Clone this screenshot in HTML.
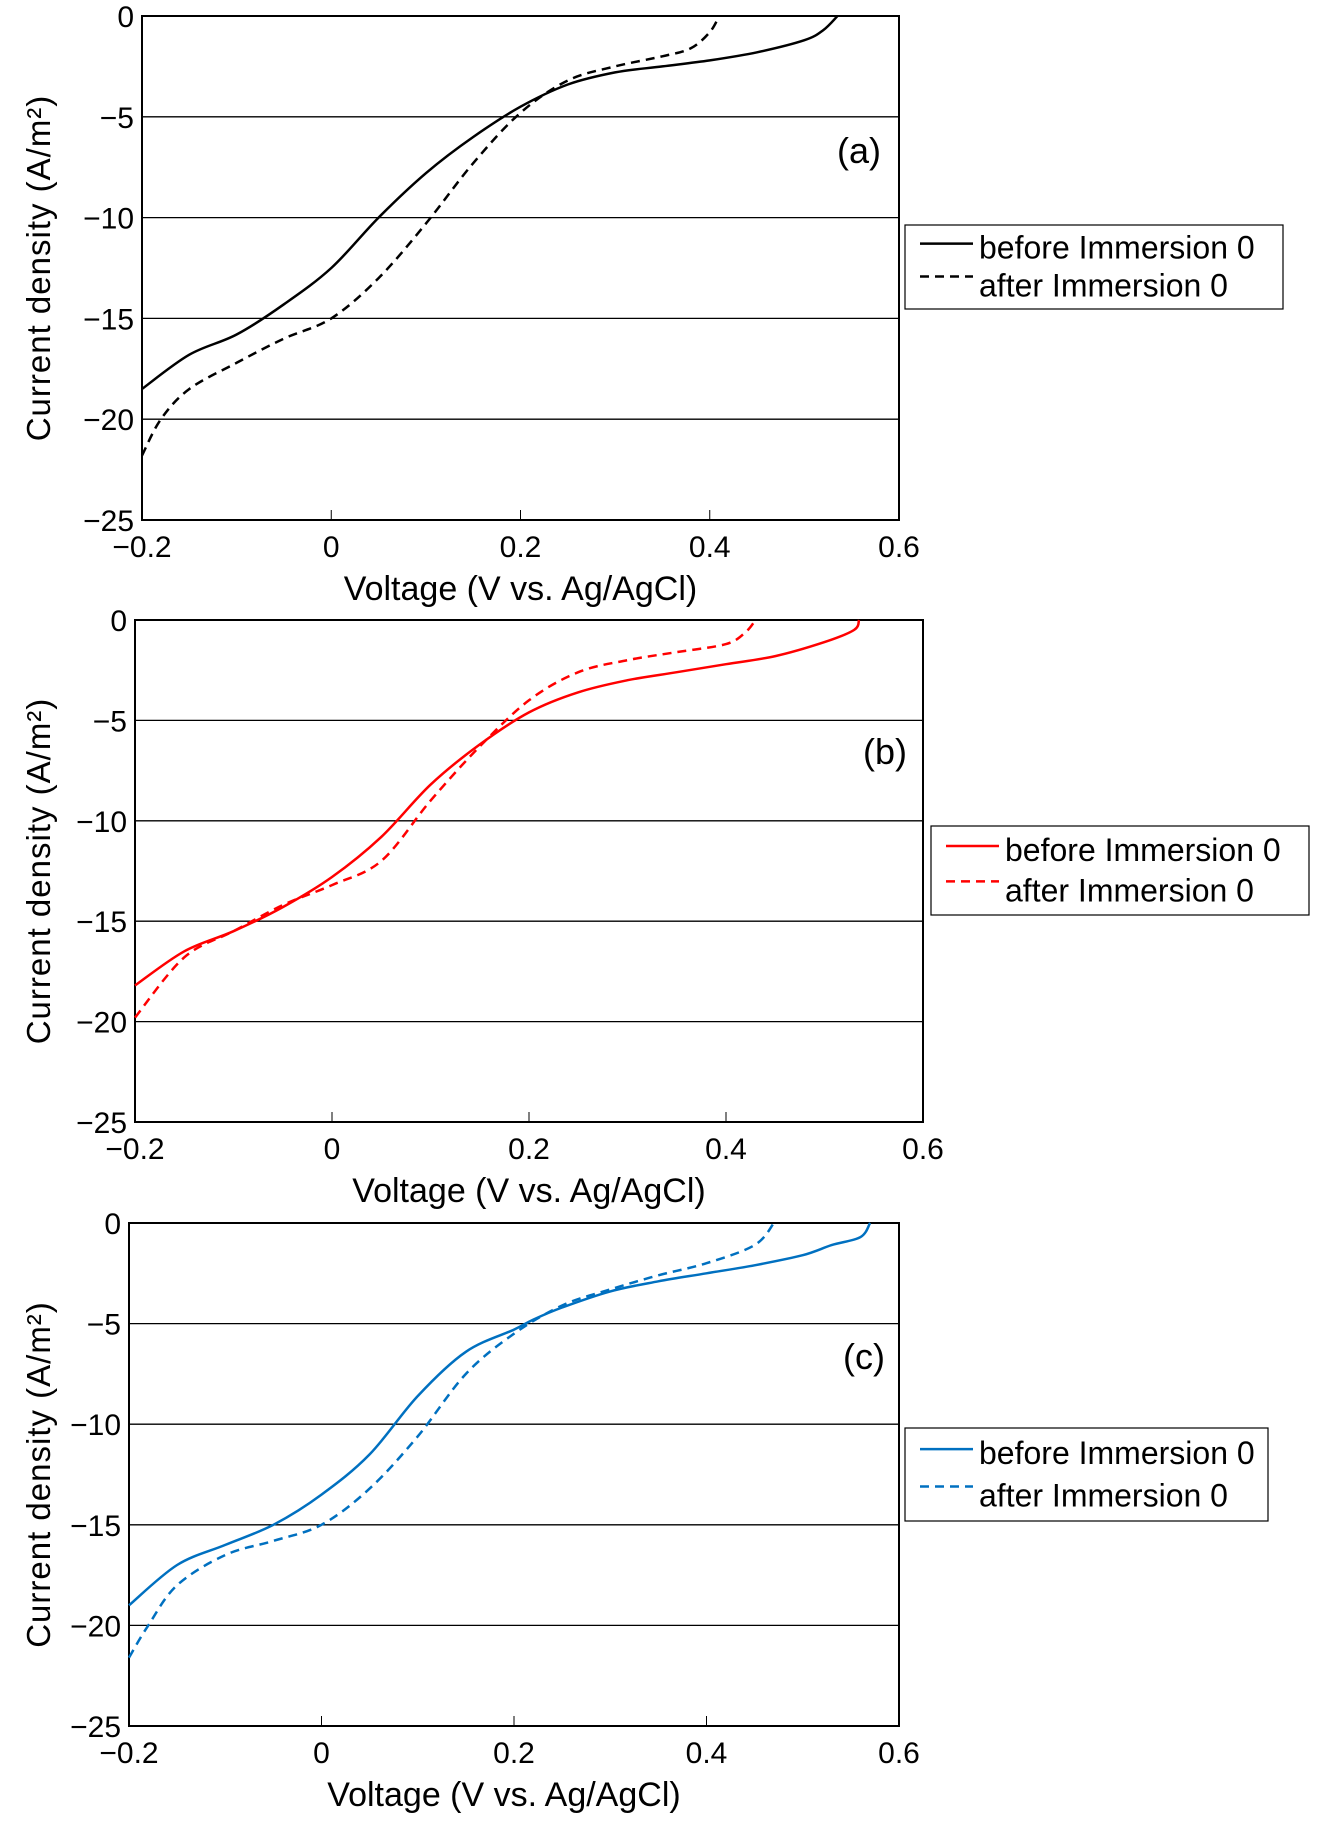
<!DOCTYPE html>
<html><head><meta charset="utf-8"><style>
html,body{margin:0;padding:0;background:#fff;}
svg text{font-family:"Liberation Sans Narrow","Liberation Sans",sans-serif;fill:#000;}
</style></head><body>
<svg id="root" width="1324" height="1824" viewBox="0 0 1324 1824" xmlns="http://www.w3.org/2000/svg"></svg>
<script>
const aBeforeV = [-0.2,-0.15,-0.1,-0.05,0,0.05,0.1,0.15,0.2,0.25,0.3,0.35,0.4,0.45,0.5,0.52,0.535];
const aBeforeJ = [-18.5,-16.8,-15.8,-14.3,-12.5,-10,-7.8,-6,-4.5,-3.4,-2.8,-2.5,-2.2,-1.8,-1.2,-0.7,0];
const aAfterV = [-0.2,-0.18,-0.15,-0.1,-0.05,0,0.05,0.1,0.15,0.2,0.25,0.3,0.35,0.38,0.4,0.41];
const aAfterJ = [-21.8,-20,-18.5,-17.2,-16,-15,-13,-10.3,-7.3,-4.8,-3.2,-2.5,-2,-1.6,-0.8,0];
const bBeforeV = [-0.2,-0.15,-0.1,-0.05,0,0.05,0.1,0.15,0.2,0.25,0.3,0.35,0.4,0.45,0.5,0.53,0.535];
const bBeforeJ = [-18.2,-16.5,-15.5,-14.3,-12.8,-10.8,-8.2,-6.2,-4.6,-3.6,-3,-2.6,-2.2,-1.8,-1.1,-0.5,0];
const bAfterV = [-0.2,-0.15,-0.1,-0.05,0,0.05,0.1,0.15,0.2,0.25,0.3,0.35,0.4,0.42,0.43];
const bAfterJ = [-19.8,-16.8,-15.5,-14.2,-13.2,-12,-9,-6.3,-4,-2.6,-2,-1.6,-1.2,-0.6,0];
const cBeforeV = [-0.2,-0.15,-0.1,-0.05,0,0.05,0.1,0.15,0.2,0.22,0.25,0.3,0.35,0.4,0.45,0.5,0.53,0.56,0.57];
const cBeforeJ = [-19,-17,-16,-15,-13.5,-11.5,-8.6,-6.4,-5.3,-4.8,-4.2,-3.4,-2.9,-2.5,-2.1,-1.6,-1.1,-0.7,0];
const cAfterV = [-0.2,-0.18,-0.15,-0.1,-0.05,0,0.05,0.1,0.15,0.2,0.25,0.3,0.35,0.4,0.45,0.47];
const cAfterJ = [-21.6,-20,-18,-16.5,-15.8,-15,-13.2,-10.6,-7.5,-5.5,-4.1,-3.3,-2.6,-2,-1.1,0];
const xTicks = [-0.2,0,0.2,0.4,0.6];
const xTickLabels = ["\u22120.2","0","0.2","0.4","0.6"];
const yTicks = [0,-5,-10,-15,-20,-25];
const yTickLabels = ["0","\u22125","\u221210","\u221215","\u221220","\u221225"];

const NS="http://www.w3.org/2000/svg";
const root=document.getElementById('root');
function mk(tag,attrs,parent){const e=document.createElementNS(NS,tag);for(const k in attrs)e.setAttribute(k,attrs[k]);(parent||root).appendChild(e);return e;}
function smooth(pts){let d='M'+pts[0][0].toFixed(1)+','+pts[0][1].toFixed(1);
 for(let i=0;i<pts.length-1;i++){const p0=pts[Math.max(0,i-1)],p1=pts[i],p2=pts[i+1],p3=pts[Math.min(pts.length-1,i+2)];
 const c1=[p1[0]+(p2[0]-p0[0])/6,p1[1]+(p2[1]-p0[1])/6],c2=[p2[0]-(p3[0]-p1[0])/6,p2[1]-(p3[1]-p1[1])/6];
 d+=' C'+c1[0].toFixed(1)+','+c1[1].toFixed(1)+' '+c2[0].toFixed(1)+','+c2[1].toFixed(1)+' '+p2[0].toFixed(1)+','+p2[1].toFixed(1);}
 return d;}

function panel(cfg){
 const g=mk('g',{});
 
 
 const L=cfg.l,R=cfg.r,T=cfg.t,B=cfg.b;
 const xs=v=>L+(v+0.2)/0.8*(R-L);
 const ys=j=>T+(-j)/25*(B-T);
 yTicks.forEach((t,i)=>{
  if(t!==0&&t!==-25){const gl=mk('line',{x1:L,x2:R,y1:ys(t),y2:ys(t),stroke:'#000','stroke-width':1.3},g);
   }
  const tx=mk('text',{x:L-8,y:ys(t)+11,'text-anchor':'end','font-size':30},g);
  
  tx.textContent=yTickLabels[i];
 });
 xTicks.forEach((t,i)=>{
  if(i>0&&i<xTicks.length-1){const tk=mk('line',{x1:xs(t),x2:xs(t),y1:B,y2:B-10,stroke:'#000','stroke-width':1},g);
   }
  const tx=mk('text',{x:xs(t),y:B+37,'text-anchor':'middle','font-size':30},g);
  
  tx.textContent=xTickLabels[i];
 });
 const fr=mk('rect',{x:L,y:T,width:R-L,height:B-T,fill:'none',stroke:'#000','stroke-width':2},g);
 
 const s1=mk('path',{d:smooth(cfg.bv.map((v,i)=>[xs(v),ys(cfg.bj[i])])),fill:'none',stroke:cfg.color,'stroke-width':2.5},g);
 
 const s2=mk('path',{d:smooth(cfg.av.map((v,i)=>[xs(v),ys(cfg.aj[i])])),fill:'none',stroke:cfg.color,'stroke-width':2.5,'stroke-dasharray':'9,6'},g);
 
 const xt=mk('text',{x:(L+R)/2+(cfg.id==='c'?-10:0),y:B+80,'text-anchor':'middle','font-size':34},g);
 
 xt.textContent='Voltage (V vs. Ag/AgCl)';
 const yc=(T+B)/2;
 const yt=mk('text',{x:0,y:0,'text-anchor':'middle','font-size':33,'letter-spacing':'1',transform:'translate(50,'+yc+') rotate(-90)','font-family':'"Liberation Sans",sans-serif'},g);
 
 yt.textContent='Current density (A/m\u00B2)';
 const pl=mk('text',{x:cfg.lx,y:cfg.ly,'text-anchor':'middle','font-size':36},g);
 
 pl.textContent='('+cfg.id+')';
 const lg=mk('g',{},g);
 
 const [bx,by,bw,bh]=cfg.leg;
 mk('rect',{x:bx,y:by,width:bw,height:bh,fill:'#fff',stroke:'#000','stroke-width':1.2},lg);
 const r1=by+bh*0.27,r2=by+bh*0.78;
 const e1=mk('g',{},lg);
 mk('line',{x1:bx+15,x2:bx+68,y1:r1-4,y2:r1-4,stroke:cfg.color,'stroke-width':2.5},e1);
 const t1=mk('text',{x:bx+74,y:r1+11,'font-size':32},e1);t1.textContent='before Immersion 0';
 const e2=mk('g',{},lg);
 mk('line',{x1:bx+15,x2:bx+68,y1:r2-14,y2:r2-14,stroke:cfg.color,'stroke-width':2.5,'stroke-dasharray':'9,6'},e2);
 const t2=mk('text',{x:bx+74,y:r2+6,'font-size':32},e2);t2.textContent='after Immersion 0';
}
panel({id:'a',l:142,r:899,t:16,b:520,color:'#000',bv:aBeforeV,bj:aBeforeJ,av:aAfterV,aj:aAfterJ,lx:859,ly:163,leg:[905,225,378,84]});
panel({id:'b',l:135,r:923,t:620,b:1122,color:'#ff0000',bv:bBeforeV,bj:bBeforeJ,av:bAfterV,aj:bAfterJ,lx:885,ly:764,leg:[931,826,378,89]});
panel({id:'c',l:129,r:899,t:1223,b:1726,color:'#0070c0',bv:cBeforeV,bj:cBeforeJ,av:cAfterV,aj:cAfterJ,lx:864,ly:1369,leg:[905,1428,363,93]});
</script>
</body></html>
